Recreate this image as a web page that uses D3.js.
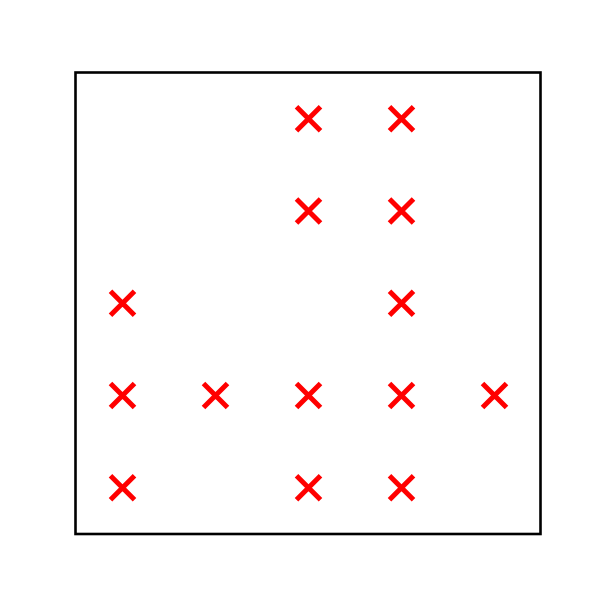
<!DOCTYPE html>
<html><head><meta charset="utf-8">
<script src="https://cdn.jsdelivr.net/npm/d3@7"></script>
<style>body{margin:0;background:#fff}</style>
</head><body>
<svg id="c" width="600" height="600"></svg>
<script>
const colIdx = [2, 3, 2, 3, 0, 3, 0, 1, 2, 3, 4, 0, 2, 3];
const rowIdx = [4, 4, 3, 3, 2, 2, 1, 1, 1, 1, 1, 0, 0, 0];

const svg = d3.select("#c");
const L = 75.5, R = 540.5, T = 72.5, B = 534;
const x = d3.scaleLinear().domain([-0.5, 4.5]).range([L + 0.5, R + 0.5]);
const y = d3.scaleLinear().domain([-0.5, 4.5]).range([B, T]);

svg.append("rect").attr("x", L).attr("y", T).attr("width", R - L).attr("height", B - T)
  .attr("fill", "none").attr("stroke", "#000").attr("stroke-width", 2.6);

const h = 12;
const g = svg.append("g");
colIdx.forEach((c, i) => {
  const cx = x(c), cy = y(rowIdx[i]);
  g.append("path")
    .attr("d", `M${cx - h},${cy - h}L${cx + h},${cy + h}M${cx - h},${cy + h}L${cx + h},${cy - h}`)
    .attr("stroke", "red").attr("stroke-width", 5).attr("fill", "none");
});
</script>
</body></html>
